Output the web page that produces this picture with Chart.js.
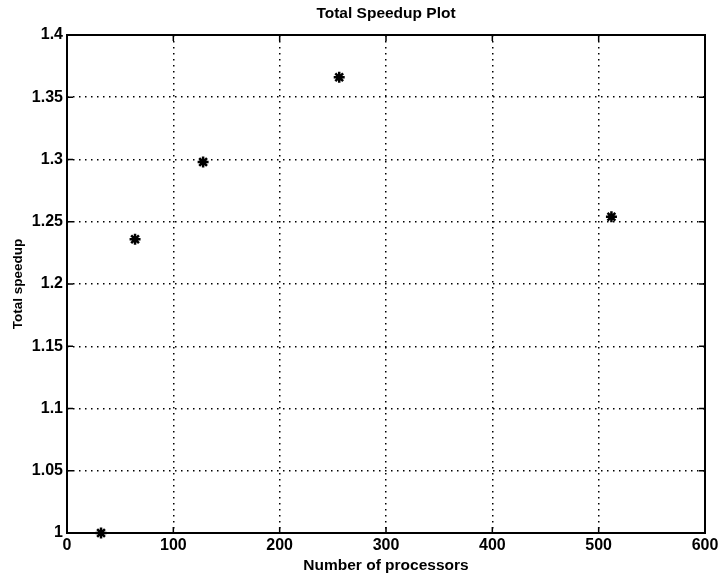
<!DOCTYPE html>
<html>
<head>
<meta charset="utf-8">
<script src="https://cdn.jsdelivr.net/npm/chart.js@4/dist/chart.umd.min.js"></script>
<style>
  html, body { margin: 0; padding: 0; background: #fff; }
  #wrap { width: 724px; height: 583px; }
</style>
</head>
<body>
<div id="wrap"><canvas id="myChart" width="724" height="583"></canvas></div>
<script>
// data
var processors = [32, 64, 128, 256, 512];
var speedup = [1.0, 1.236, 1.298, 1.366, 1.254];
var xTicks = [0, 100, 200, 300, 400, 500, 600];
var yTicks = [1, 1.05, 1.1, 1.15, 1.2, 1.25, 1.3, 1.35, 1.4];
var yTickLabels = ['1', '1.05', '1.1', '1.15', '1.2', '1.25', '1.3', '1.35', '1.4'];
var plotTitle = 'Total Speedup Plot';

// matlab style box + inward tick marks, title centred over the axes
var boxPlugin = {
    id: 'box',
    beforeDatasetsDraw: function (chart) {
        var ctx = chart.ctx;
        var a = chart.chartArea;
        var xs = chart.scales.x, ys = chart.scales.y;
        var len = 6;
        ctx.save();
        ctx.strokeStyle = '#000';
        ctx.lineWidth = 1.5;
        ctx.beginPath();
        xTicks.forEach(function (v) {
            var px = xs.getPixelForValue(v);
            ctx.moveTo(px, a.bottom); ctx.lineTo(px, a.bottom - len);
            ctx.moveTo(px, a.top); ctx.lineTo(px, a.top + len);
        });
        yTicks.forEach(function (v) {
            var py = ys.getPixelForValue(v);
            ctx.moveTo(a.left, py); ctx.lineTo(a.left + len, py);
            ctx.moveTo(a.right, py); ctx.lineTo(a.right - len, py);
        });
        ctx.stroke();
        ctx.lineWidth = 2;
        ctx.strokeRect(a.left, a.top, a.right - a.left, a.bottom - a.top);

        ctx.fillStyle = '#000';
        ctx.font = 'bold 15.5px "Liberation Sans"';
        ctx.textAlign = 'center';
        ctx.textBaseline = 'middle';
        ctx.fillText(plotTitle, (a.left + a.right) / 2, a.top - 21);
        ctx.restore();
    }
};

var ctx = document.getElementById('myChart').getContext('2d');
var chart = new Chart(ctx, {
    type: 'scatter',
    data: {
        datasets: [{
            label: 'Total speedup',
            data: processors.map(function (p, i) { return { x: p, y: speedup[i] }; }),
            pointStyle: 'star',
            pointRadius: 5.5,
            pointBorderWidth: 2.5,
            borderColor: '#000',
            backgroundColor: '#000',
            clip: false
        }]
    },
    options: {
        responsive: false,
        animation: false,
        layout: { padding: { left: 0, right: 19, top: 35, bottom: 0 } },
        plugins: {
            legend: { display: false },
            tooltip: { enabled: false },
            title: { display: false }
        },
        scales: {
            x: {
                type: 'linear',
                min: 0,
                max: 600,
                afterBuildTicks: function (s) { s.ticks = xTicks.map(function (v) { return { value: v }; }); },
                afterFit: function (s) { s.height = 50; },
                ticks: {
                    color: '#000',
                    padding: 3,
                    font: { family: 'Liberation Sans', size: 16, weight: 'bold' },
                    maxRotation: 0
                },
                grid: {
                    color: '#000',
                    lineWidth: 1.5,
                    drawTicks: false
                },
                border: { display: false, dash: [1.5, 4.5] },
                title: {
                    display: true,
                    text: 'Number of processors',
                    color: '#000',
                    font: { family: 'Liberation Sans', size: 15.5, weight: 'bold' },
                    padding: { top: 0, bottom: 8 }
                }
            },
            y: {
                type: 'linear',
                min: 1,
                max: 1.4,
                afterBuildTicks: function (s) { s.ticks = yTicks.map(function (v) { return { value: v }; }); },
                afterFit: function (s) { s.width = 67; },
                ticks: {
                    color: '#000',
                    padding: 4,
                    font: { family: 'Liberation Sans', size: 16, weight: 'bold' },
                    callback: function (v) {
                        var i = yTicks.indexOf(Math.round(v * 100) / 100);
                        return i >= 0 ? yTickLabels[i] : '';
                    }
                },
                grid: {
                    color: '#000',
                    lineWidth: 1.5,
                    drawTicks: false
                },
                border: { display: false, dash: [1.5, 4.5] },
                title: {
                    display: true,
                    text: 'Total speedup',
                    color: '#000',
                    font: { family: 'Liberation Sans', size: 13.5, weight: 'bold' },
                    padding: { top: 10, bottom: 0 }
                }
            }
        }
    },
    plugins: [boxPlugin]
});
</script>
</body>
</html>
